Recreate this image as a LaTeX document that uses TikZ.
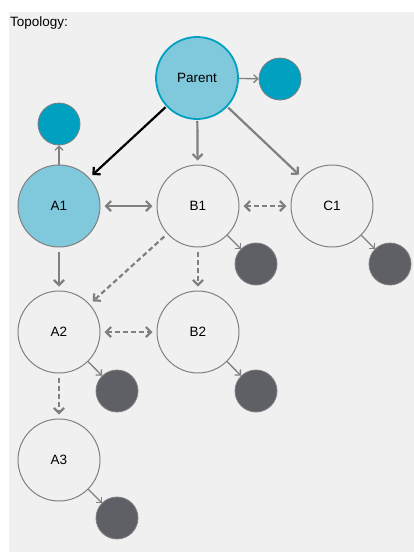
\documentclass[tikz,border=0pt]{standalone}
\usepackage{fontspec}
\setmainfont{Liberation Sans}
\usetikzlibrary{arrows.meta}
\definecolor{panelgray}{HTML}{F0F0F0}
\definecolor{edgegray}{HTML}{808080}
\definecolor{teal}{HTML}{00A0C0}
\definecolor{lightblue}{HTML}{80C8DC}
\definecolor{darkdot}{HTML}{5F6066}
\tikzset{
  big/.style = {circle, draw = edgegray, line width = 1pt, fill = panelgray,
    minimum size = 82pt, inner sep = 0pt, font = \fontsize{13.5}{15}\selectfont},
  dot/.style = {circle, draw = edgegray, line width = 0.8pt, fill = darkdot,
    minimum size = 42pt, inner sep = 0pt},
  tealdot/.style = {dot, fill = teal},
  link/.style = {edgegray, line width = 2.2pt, -{Straight Barb[length=5pt,width=10pt]},
    shorten >= 4pt, shorten <= 4pt},
  twin/.style = {link, {Straight Barb[length=5pt,width=10pt]}-{Straight Barb[length=5pt,width=10pt]}},
  loose/.style = {dash pattern = on 5pt off 3pt},
  tag/.style = {edgegray, line width = 1.3pt, -{Straight Barb[length=4pt,width=8pt]}}
}
\begin{document}
\begin{tikzpicture}[x = 1pt, y = -1pt]
  \useasboundingbox (0, 0) rectangle (414, 552);
  \fill [panelgray] (9, 12) rectangle (414, 552);
  \node (TT) [anchor = west, inner sep = 0pt, font = \fontsize{13.5}{15}\selectfont] at (10, 23) {Topology:};
  % circles
  \node (PP) [big, draw = teal, line width = 1.8pt, fill = lightblue] at (197, 78) {Parent};
  \node (AA) [big, fill = lightblue] at (59, 206) {A1};
  \node (AB) [big] at (198, 206) {B1};
  \node (AC) [big] at (332, 206) {C1};
  \node (BA) [big] at (59, 332) {A2};
  \node (BB) [big] at (198, 332) {B2};
  \node (CA) [big] at (59, 460) {A3};
  % small dots
  \node (PS) [tealdot] at (280, 79) {};
  \node (AS) [tealdot] at (59, 124) {};
  \node (BS) [dot] at (256, 264) {};
  \node (CS) [dot] at (390, 264) {};
  \node (DS) [dot] at (117, 391) {};
  \node (ES) [dot] at (256, 391) {};
  \node (FS) [dot] at (117, 518) {};
  % links
  \draw [link, black, shorten <= 1pt] (PP) -- (AA);
  \draw [link, shorten <= 1pt] (PP) -- (AB);
  \draw [link, shorten <= 1pt] (PP) -- (AC);
  \draw [twin] (AA) -- (AB);
  \draw [twin, loose] (AB) -- (AC);
  \draw [twin, loose] (BA) -- (BB);
  \draw [link] (AA) -- (BA);
  \draw [link, loose] (AB) -- (BA);
  \draw [link, loose] (AB) -- (BB);
  \draw [link, loose] (BA) -- (CA);
  % dots
  \draw [tag] (PP) -- (PS);
  \draw [tag] (AA) -- (AS);
  \draw [tag] (AB) -- (BS);
  \draw [tag] (AC) -- (CS);
  \draw [tag] (BA) -- (DS);
  \draw [tag] (BB) -- (ES);
  \draw [tag] (CA) -- (FS);
\end{tikzpicture}
\end{document}
